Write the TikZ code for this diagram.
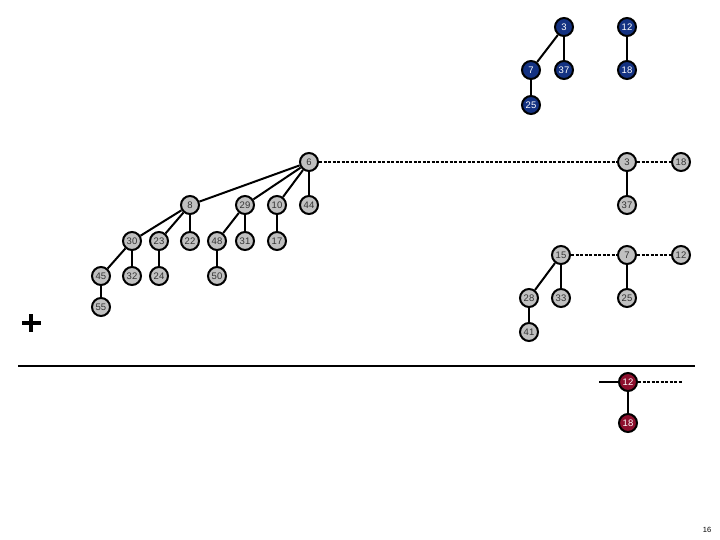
\documentclass[tikz,border=0pt]{standalone}
\usepackage{fontspec}
\setmainfont{Liberation Sans}
\definecolor{navy}{RGB}{20,50,130}
\definecolor{wine}{RGB}{140,15,45}
\definecolor{nodegray}{RGB}{192,192,192}
\begin{document}
\begin{tikzpicture}[x=1pt,y=-1pt,
  base/.style={circle,draw=black,line width=2pt,minimum size=18pt,inner sep=0pt,font=\fontsize{9.5}{9.5}\selectfont},
  gnode/.style={base,fill=nodegray,text=black!80},
  bnode/.style={base,fill=navy,text=white},
  rnode/.style={base,fill=wine,text=white},
  edge/.style={line width=2pt},
  link/.style={line width=1.4pt,dash pattern=on 3pt off 1.5pt}]
\useasboundingbox (0,0) rectangle (720,540);
% blue heaps
\node[bnode] (b3) at (564,27) {3};
\node[bnode] (b12) at (627,27) {12};
\node[bnode] (b7) at (531,70) {7};
\node[bnode] (b37) at (564,70) {37};
\node[bnode] (b18) at (627,70) {18};
\node[bnode] (b25) at (531,105) {25};
\draw[edge] (b3) -- (b7);
\draw[edge] (b3) -- (b37);
\draw[edge] (b12) -- (b18);
\draw[edge] (b7) -- (b25);
% gray big tree
\node[gnode] (g6) at (309,162) {6};
\node[gnode] (g8) at (190,205) {8};
\node[gnode] (g29) at (245,205) {29};
\node[gnode] (g10) at (277,205) {10};
\node[gnode] (g44) at (309,205) {44};
\node[gnode] (g30) at (132,241) {30};
\node[gnode] (g23) at (159,241) {23};
\node[gnode] (g22) at (190,241) {22};
\node[gnode] (g48) at (217,241) {48};
\node[gnode] (g31) at (245,241) {31};
\node[gnode] (g17) at (277,241) {17};
\node[gnode] (g45) at (101,276) {45};
\node[gnode] (g32) at (132,276) {32};
\node[gnode] (g24) at (159,276) {24};
\node[gnode] (g50) at (217,276) {50};
\node[gnode] (g55) at (101,307) {55};
\foreach \a/\b in {g6/g8,g6/g29,g6/g10,g6/g44,g8/g30,g8/g23,g8/g22,g29/g48,g29/g31,g10/g17,g30/g45,g30/g32,g23/g24,g48/g50,g45/g55}
  \draw[edge] (\a) -- (\b);
% gray right trees
\node[gnode] (g3) at (627,162) {3};
\node[gnode] (g18) at (681,162) {18};
\node[gnode] (g37) at (627,205) {37};
\node[gnode] (g15) at (561,255) {15};
\node[gnode] (g7) at (627,255) {7};
\node[gnode] (g12) at (681,255) {12};
\node[gnode] (g28) at (529,298) {28};
\node[gnode] (g33) at (561,298) {33};
\node[gnode] (g25) at (627,298) {25};
\node[gnode] (g41) at (529,332) {41};
\foreach \a/\b in {g3/g37,g15/g28,g15/g33,g7/g25,g28/g41}
  \draw[edge] (\a) -- (\b);
\draw[link] (g6) -- (g3);
\draw[link] (g3) -- (g18);
\draw[link] (g15) -- (g7);
\draw[link] (g7) -- (g12);
% plus sign
\coordinate (pc) at (31,323);
\fill ([xshift=-9.5pt,yshift=-2.2pt]pc) rectangle ([xshift=9.5pt,yshift=2.2pt]pc);
\fill ([xshift=-2.2pt,yshift=-9pt]pc) rectangle ([xshift=2.2pt,yshift=9pt]pc);
% separator line
\coordinate (l1) at (18,366);
\coordinate (l2) at (695,366);
\draw[line width=2pt] (l1) -- (l2);
% red heap
\node[rnode] (r12) at (628,382) {12};
\node[rnode] (r18) at (628,423) {18};
\coordinate (rl) at (599,382);
\coordinate (rr) at (682,382);
\draw[edge] (r12) -- (r18);
\draw[line width=1.4pt] (rl) -- (r12);
\draw[link] (r12) -- (rr);
% page number
\node[font=\fontsize{7.5}{7.5}\selectfont,inner sep=0pt] (pn) at (707,530) {16};
\end{tikzpicture}
\end{document}
